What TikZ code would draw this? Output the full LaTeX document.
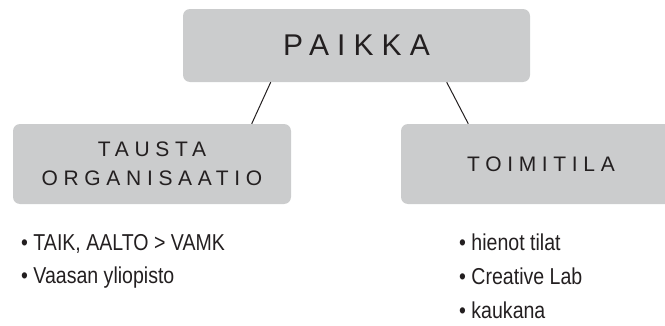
\documentclass[tikz,border=0pt]{standalone}
\usepackage{fontspec}
\setmainfont{Liberation Sans}
\newfontfamily\spacedfont[LetterSpace=27]{Liberation Sans}
\newfontfamily\bulletfont[FakeStretch=0.85]{Liberation Sans}
\definecolor{boxgray}{HTML}{CBCCCD}
\definecolor{inkgray}{HTML}{231F20}
\begin{document}
\begin{tikzpicture}[x=1pt,y=1pt,
  titlebox/.style={fill=boxgray, rounded corners=7pt, inner sep=0pt, text=inkgray, align=center},
  bullet/.style={anchor=base west, inner sep=0pt, text=inkgray, font=\fontsize{23}{27}\bulletfont},
  link/.style={draw=inkgray, line width=1pt}]
\useasboundingbox (0,0) rectangle (665,325);
\begin{scope}
\clip (0,0) rectangle (665,325);
\node[titlebox, minimum width=347pt, minimum height=73pt, font=\fontsize{30}{36}\spacedfont] (paikka) at (356.5,279.5)
  {PAIKKA};
\node[titlebox, minimum width=278pt, minimum height=80pt, font=\fontsize{21}{29}\spacedfont] (tausta) at (152,161)
  {TAUSTA\\ORGANISAATIO};
\node[titlebox, minimum width=280pt, minimum height=80pt, font=\fontsize{21}{29}\spacedfont] (toimitila) at (541,161)
  {TOIMITILA};
\end{scope}
\draw[link] ([xshift=-85.8pt]paikka.south) -- ([xshift=99.7pt]tausta.north);
\draw[link] ([xshift=90.2pt]paikka.south) -- ([xshift=-72.7pt]toimitila.north);
\node[bullet] (l1) at (21,75) {• TAIK, AALTO > VAMK};
\node[bullet] (l2) at (21,42) {• Vaasan yliopisto};
\node[bullet] (r1) at (459,75) {• hienot tilat};
\node[bullet] (r2) at (459,41) {• Creative Lab};
\node[bullet] (r3) at (459,7) {• kaukana};
\end{tikzpicture}
\end{document}
